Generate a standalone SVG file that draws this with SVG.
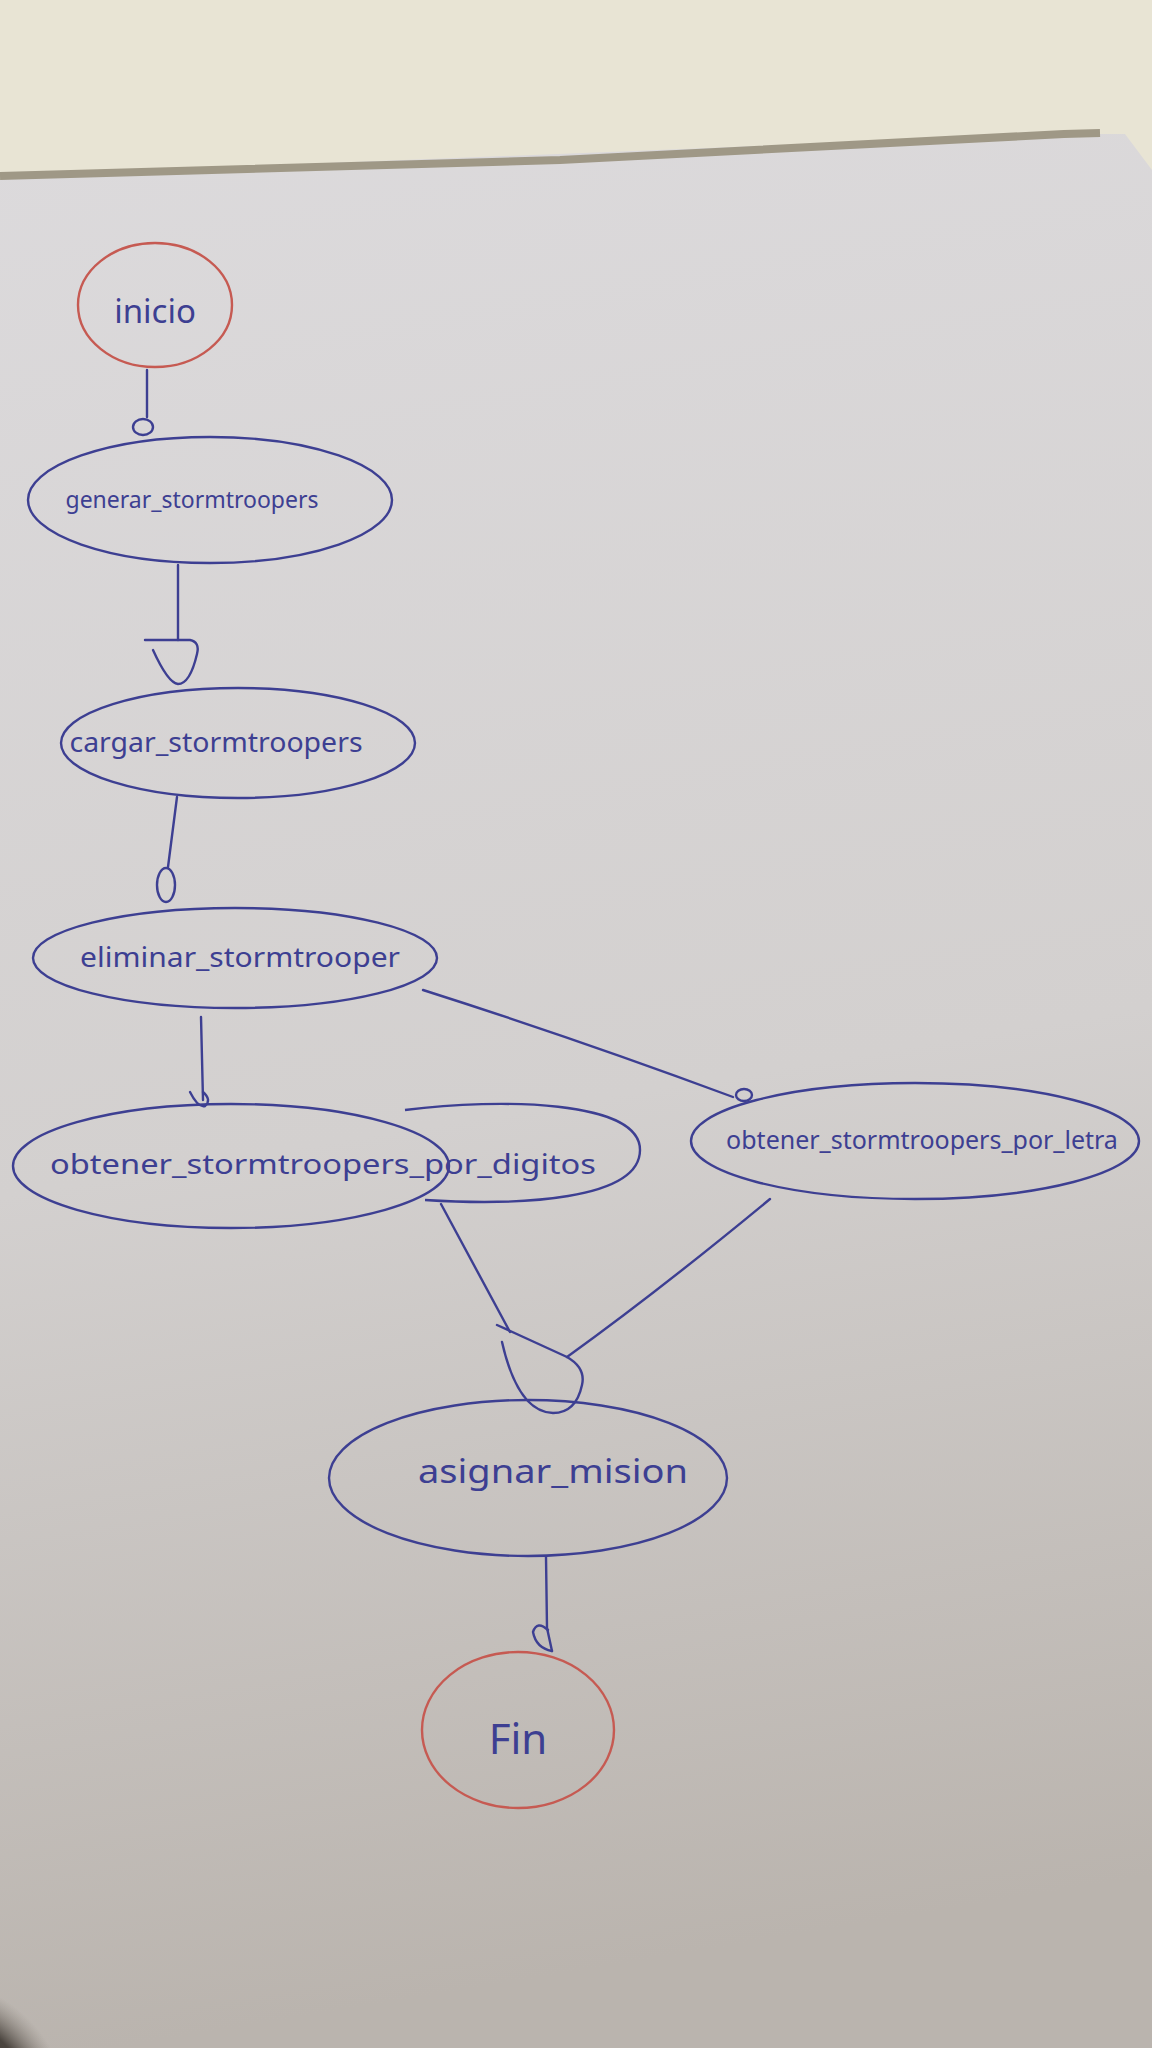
<svg xmlns="http://www.w3.org/2000/svg" width="1152" height="2048" viewBox="0 0 1152 2048">
  <defs>
    <linearGradient id="paper" x1="0" y1="0" x2="0.1" y2="1">
      <stop offset="0" stop-color="#dcdadc"/>
      <stop offset="0.55" stop-color="#d3d0cf"/>
      <stop offset="1" stop-color="#bab4ae"/>
    </linearGradient>
    <radialGradient id="shadow" cx="0" cy="1" r="1">
      <stop offset="0" stop-color="#2e2a26"/>
      <stop offset="0.75" stop-color="#4a443e"/>
      <stop offset="1" stop-color="#8a837b" stop-opacity="0"/>
    </radialGradient>
    <style>
      .node { fill: none; stroke: #3d3f92; stroke-width: 2.4; }
      .term { fill: none; stroke: #c65a52; stroke-width: 2.4; }
      .edge { fill: none; stroke: #3d3f92; stroke-width: 2.4; stroke-linecap: round; stroke-linejoin: round; }
      .lbl { font-family: "Noto Sans", "Liberation Sans", sans-serif; fill: #3d3f92; text-anchor: middle; }
    </style>
  </defs>

  <!-- background: wall and paper -->
  <rect x="0" y="0" width="1152" height="2048" fill="#e8e4d4"/>
  <polygon points="0,176 1064,134 1125,134 1152,170 1152,2048 0,2048" fill="url(#paper)"/>
  <path d="M0,176 L560,160 L1064,134 L1100,133" fill="none" stroke="#9f9886" stroke-width="8"/>
  <circle cx="0" cy="2048" r="70" fill="url(#shadow)"/>

  <!-- connectors -->
  <g id="connectors">
    <!-- inicio -> generar_stormtroopers -->
    <path class="edge" d="M147,370 L147,417"/>
    <ellipse class="edge" cx="143" cy="427" rx="10" ry="8"/>
    <!-- generar -> cargar -->
    <path class="edge" d="M178,565 L178,640"/>
    <path class="edge" d="M145,640 L190,640 Q200,642 197,654 Q190,684 178,684 Q168,683 153,650"/>
    <!-- cargar -> eliminar -->
    <path class="edge" d="M177,797 L168,867"/>
    <ellipse class="edge" cx="166" cy="885" rx="9" ry="17"/>
    <!-- eliminar -> obtener_por_digitos -->
    <path class="edge" d="M201,1017 L203,1100"/>
    <path class="edge" d="M190,1092 Q198,1108 205,1106 Q212,1100 203,1092"/>
    <!-- eliminar -> obtener_por_letra -->
    <path class="edge" d="M423,990 Q580,1040 733,1097"/>
    <ellipse class="edge" cx="744" cy="1095" rx="8" ry="6"/>
    <!-- por_digitos -> join -->
    <path class="edge" d="M441,1204 L510,1332"/>
    <!-- por_letra -> join -->
    <path class="edge" d="M770,1199 Q660,1290 567,1357"/>
    <!-- join cup -> asignar -->
    <path class="edge" d="M497,1325 L567,1357 Q586,1368 582,1385 Q576,1413 553,1413 Q518,1412 502,1342"/>
    <!-- asignar -> Fin -->
    <path class="edge" d="M546,1557 L547,1628 L552,1651"/>
    <path class="edge" d="M548,1630 Q537,1620 533,1632 Q536,1648 552,1651"/>
  </g>

  <!-- nodes -->
  <g id="inicio">
    <ellipse class="term" cx="155" cy="305" rx="77" ry="62"/>
    <text class="lbl" x="155" y="323" font-size="33">inicio</text>
  </g>
  <g id="generar_stormtroopers">
    <ellipse class="node" cx="210" cy="500" rx="182" ry="63"/>
    <text class="lbl" x="192" y="508" font-size="23">generar_stormtroopers</text>
  </g>
  <g id="cargar_stormtroopers">
    <ellipse class="node" cx="238" cy="743" rx="177" ry="55"/>
    <text class="lbl" x="216" y="752" font-size="28" textLength="293" lengthAdjust="spacingAndGlyphs">cargar_stormtroopers</text>
  </g>
  <g id="eliminar_stormtrooper">
    <ellipse class="node" cx="235" cy="958" rx="202" ry="50"/>
    <text class="lbl" x="240" y="967" font-size="28" textLength="320" lengthAdjust="spacingAndGlyphs">eliminar_stormtrooper</text>
  </g>
  <g id="obtener_stormtroopers_por_digitos">
    <ellipse class="node" cx="231" cy="1166" rx="218" ry="62"/>
    <path class="node" d="M405,1110 C500,1098 640,1100 640,1150 C640,1200 520,1206 425,1200"/>
    <text class="lbl" x="323" y="1174" font-size="28" textLength="546" lengthAdjust="spacingAndGlyphs">obtener_stormtroopers_por_digitos</text>
  </g>
  <g id="obtener_stormtroopers_por_letra">
    <ellipse class="node" cx="915" cy="1141" rx="224" ry="58"/>
    <text class="lbl" x="922" y="1149" font-size="25">obtener_stormtroopers_por_letra</text>
  </g>
  <g id="asignar_mision">
    <ellipse class="node" cx="528" cy="1478" rx="199" ry="78"/>
    <text class="lbl" x="553" y="1483" font-size="32" textLength="270" lengthAdjust="spacingAndGlyphs">asignar_mision</text>
  </g>
  <g id="Fin">
    <ellipse class="term" cx="518" cy="1730" rx="96" ry="78"/>
    <text class="lbl" x="518" y="1754" font-size="42">Fin</text>
  </g>
</svg>
